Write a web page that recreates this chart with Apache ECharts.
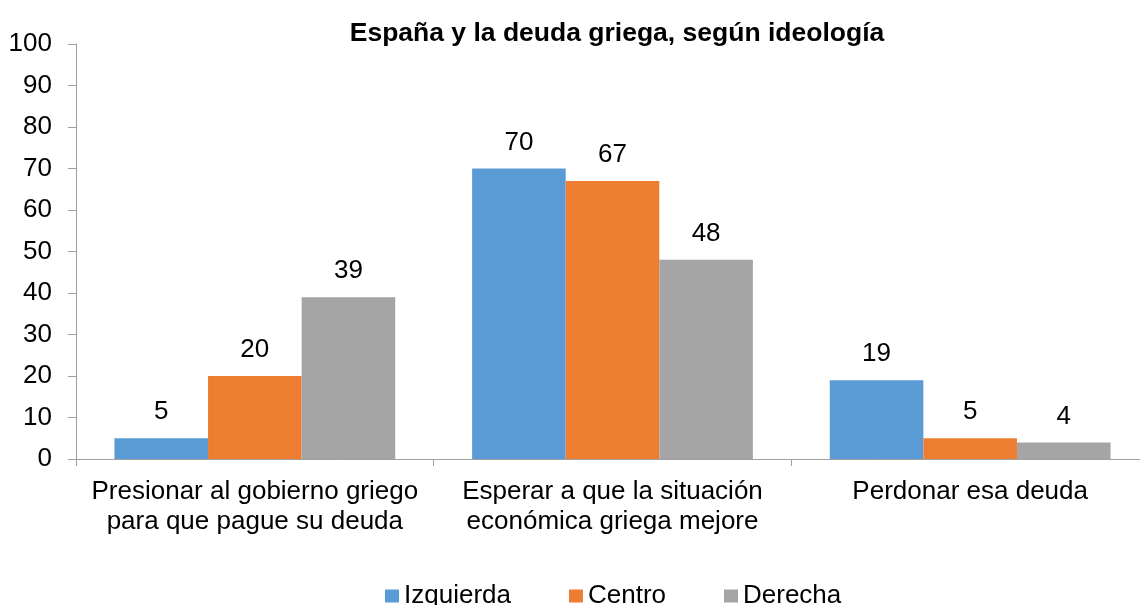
<!DOCTYPE html>
<html>
<head>
<meta charset="utf-8">
<script src="https://cdn.jsdelivr.net/npm/echarts@6/dist/echarts.min.js"></script>
<style>
  html, body { margin: 0; padding: 0; background: #fff; }
  #chart { width: 1140px; height: 605px; }
</style>
</head>
<body>
<div id="chart"></div>
<script>
var categories = ['Presionar al gobierno griego\npara que pague su deuda',
                  'Esperar a que la situación\neconómica griega mejore',
                  'Perdonar esa deuda'];
var izquierda = [5, 70, 19];
var centro = [20, 67, 5];
var derecha = [39, 48, 4];

var font = 'Liberation Sans, Arial, sans-serif';

// etiqueta encima de cada barra
var barLabel = {
    show: true,
    position: 'top',
    distance: 13,
    fontFamily: font,
    fontSize: 26,
    color: '#000'
};

var chart = echarts.init(document.getElementById('chart'));

var option = {
    animation: false,
    color: ['#5B9BD5', '#ED7D31', '#A5A5A5'],
    title: {
        text: 'España y la deuda griega, según ideología',
        left: 612,
        textAlign: 'center',
        top: 15,
        textStyle: { fontFamily: font, fontSize: 26.5, fontWeight: 'bold', color: '#000' }
    },
    legend: {
        top: 578,
        left: 380,
        itemWidth: 14,
        itemHeight: 13,
        itemGap: 58,
        icon: 'rect',
        textStyle: { fontFamily: font, fontSize: 26, color: '#000' },
        data: ['Izquierda', 'Centro', 'Derecha']
    },
    grid: {
        left: 76,
        width: 1073,
        top: 44,
        bottom: 146,
        outerBoundsMode: 'none',
        containLabel: false
    },
    xAxis: {
        type: 'category',
        data: categories,
        axisLine: { lineStyle: { color: '#A0A0A0', width: 1 } },
        axisTick: { show: true, length: 7, lineStyle: { color: '#A0A0A0' } },
        axisLabel: {
            fontFamily: font,
            fontSize: 26,
            color: '#000',
            lineHeight: 30,
            margin: 18,
            interval: 0
        }
    },
    yAxis: {
        type: 'value',
        min: 0,
        max: 100,
        interval: 10,
        axisLine: { show: true, lineStyle: { color: '#A0A0A0', width: 1 } },
        axisTick: { show: true, length: 8, lineStyle: { color: '#A0A0A0' } },
        splitLine: { show: false },
        axisLabel: { fontFamily: font, fontSize: 26, color: '#000', margin: 24 }
    },
    series: [
        { name: 'Izquierda', type: 'bar', data: izquierda, barGap: '0%', barCategoryGap: '21.5%', label: barLabel },
        { name: 'Centro', type: 'bar', data: centro, barGap: '0%', barCategoryGap: '21.5%', label: barLabel },
        { name: 'Derecha', type: 'bar', data: derecha, barGap: '0%', barCategoryGap: '21.5%', label: barLabel }
    ]
};

chart.setOption(option);
</script>
</body>
</html>
